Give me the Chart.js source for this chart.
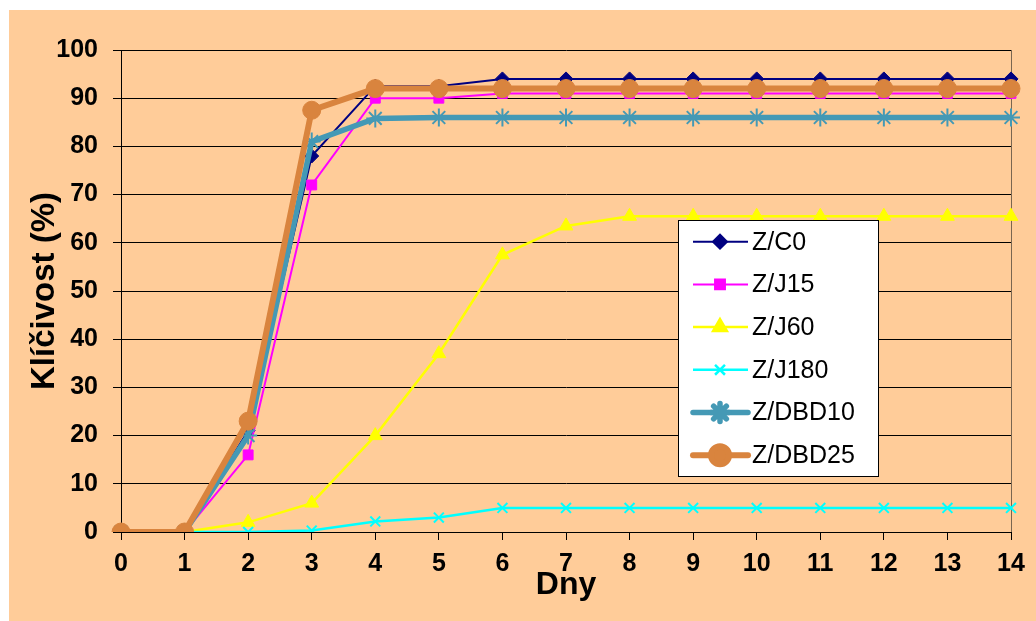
<!DOCTYPE html>
<html>
<head>
<meta charset="utf-8">
<script src="https://cdn.jsdelivr.net/npm/chart.js@4/dist/chart.umd.min.js"></script>
<style>
  body { margin: 0; background: #fff; }
  #wrap { position: absolute; left: 9px; top: 10px; width: 1027px; height: 611px; background: #FFCC99; }
</style>
</head>
<body>
<div id="wrap"><canvas id="myChart" width="1027" height="611"></canvas></div>
<script>
"use strict";

// days on x axis
const days = ["0", "1", "2", "3", "4", "5", "6", "7", "8", "9", "10", "11", "12", "13", "14"];

// germination (%)
const zC0 = [0, 0, 21, 78, 92.5, 92.5, 94, 94, 94, 94, 94, 94, 94, 94, 94];
const zJ15 = [0, 0, 16, 72, 90, 90, 91, 91, 91, 91, 91, 91, 91, 91, 91];
const zJ60 = [0, 0, 2, 6, 20, 37, 57.5, 63.5, 65.5, 65.5, 65.5, 65.5, 65.5, 65.5, 65.5];
const zJ180 = [0, 0, 0, 0.3, 2.2, 3, 5, 5, 5, 5, 5, 5, 5, 5, 5];
const zDBD10 = [0, 0, 20, 81, 85.8, 86, 86, 86, 86, 86, 86, 86, 86, 86, 86];
const zDBD25 = [0, 0, 23, 87.5, 92, 92, 92, 92, 92, 92, 92, 92, 92, 92, 92];

const seriesNames = ["Z/C0", "Z/J15", "Z/J60", "Z/J180", "Z/DBD10", "Z/DBD25"];

const FONT = "'Liberation Sans', Arial, sans-serif";

// legend drawn in the plot like the excel one
const boxLegend = {
  id: "boxLegend",
  afterDraw(chart) {
    const ctx = chart.ctx;
    const x0 = 669, y0 = 210, w = 200, h = 256;
    ctx.save();
    ctx.fillStyle = "#fff";
    ctx.fillRect(x0, y0, w, h);
    ctx.strokeStyle = "#000";
    ctx.lineWidth = 1;
    ctx.strokeRect(x0 + 0.5, y0 + 0.5, w, h);
    chart.data.datasets.forEach((ds, i) => {
      const y = 231.7 + i * 42.7;
      ctx.strokeStyle = ds.borderColor;
      ctx.lineWidth = ds.borderWidth;
      ctx.lineCap = ds.borderWidth > 3 ? "round" : "butt";
      ctx.beginPath();
      ctx.moveTo(x0 + 15, y);
      ctx.lineTo(x0 + 70, y);
      ctx.stroke();
      ctx.fillStyle = ds.pointBackgroundColor;
      ctx.strokeStyle = ds.pointBorderColor;
      Chart.helpers.drawPoint(ctx, {
        pointStyle: ds.pointStyle,
        radius: ds.pointRadius,
        rotation: 0,
        borderWidth: ds.pointBorderWidth,
      }, x0 + 42, y);
      ctx.fillStyle = "#000";
      ctx.font = "25px " + FONT;
      ctx.textBaseline = "middle";
      ctx.textAlign = "left";
      ctx.fillText(ds.label, x0 + 74, y + 1);
    });
    ctx.restore();
  },
};

function makeSet(label, data, color, width, style, radius, order, borderW) {
  return {
    label: label,
    data: data,
    borderColor: color,
    backgroundColor: color,
    borderWidth: width,
    pointStyle: style,
    pointRadius: radius,
    pointHoverRadius: radius,
    pointBackgroundColor: color,
    pointBorderColor: color,
    pointBorderWidth: borderW,
    order: order,
    tension: 0,
  };
}

const datasets = [
  makeSet(seriesNames[0], zC0, "#000080", 2, "rectRot", 7, 6, 1),
  makeSet(seriesNames[1], zJ15, "#FF00FF", 2, "rect", 7, 5, 1),
  makeSet(seriesNames[2], zJ60, "#FFFF00", 2.5, "triangle", 8, 4, 1),
  makeSet(seriesNames[3], zJ180, "#00FFFF", 2.5, "crossRot", 7, 3, 2),
  makeSet(seriesNames[4], zDBD10, "#4499B5", 5.5, "star", 9, 2, 2),
  makeSet(seriesNames[5], zDBD25, "#D9843E", 6, "circle", 9, 1, 1),
];

new Chart("myChart", {
  type: "line",
  data: { labels: days, datasets: datasets },
  options: {
    responsive: false,
    animation: false,
    layout: { padding: { top: 40, right: 25, left: 0, bottom: 0 } },
    plugins: { legend: { display: false }, tooltip: { enabled: false } },
    scales: {
      x: {
        type: "category",
        offset: false,
        afterFit: (scale) => { scale.height = 89; },
        grid: {
          color: (c) => (c.index === 14 ? "#7a6650" : "rgba(0,0,0,0)"),
          tickColor: "#000",
          tickLength: 8,
          lineWidth: 1,
        },
        border: { color: "#000", width: 1 },
        ticks: {
          color: "#000",
          padding: 9,
          maxRotation: 0,
          autoSkip: false,
          font: { family: FONT, size: 25, weight: "bold" },
        },
        title: {
          display: true,
          text: "Dny",
          color: "#000",
          font: { family: FONT, size: 32, weight: "bold" },
          padding: { top: 0, bottom: 17 },
        },
      },
      y: {
        min: 0,
        max: 100,
        afterFit: (scale) => { scale.width = 112; },
        grid: { color: "#000", tickColor: "#000", tickLength: 8, lineWidth: 1 },
        border: { color: "#000", width: 1 },
        ticks: {
          stepSize: 10,
          color: "#000",
          padding: 15,
          font: { family: FONT, size: 25, weight: "bold" },
        },
        title: {
          display: true,
          text: "Klíčivost (%)",
          color: "#000",
          font: { family: FONT, size: 33, weight: "bold" },
          padding: { top: 16, bottom: 0 },
        },
      },
    },
  },
  plugins: [boxLegend],
});
</script>
</body>
</html>
